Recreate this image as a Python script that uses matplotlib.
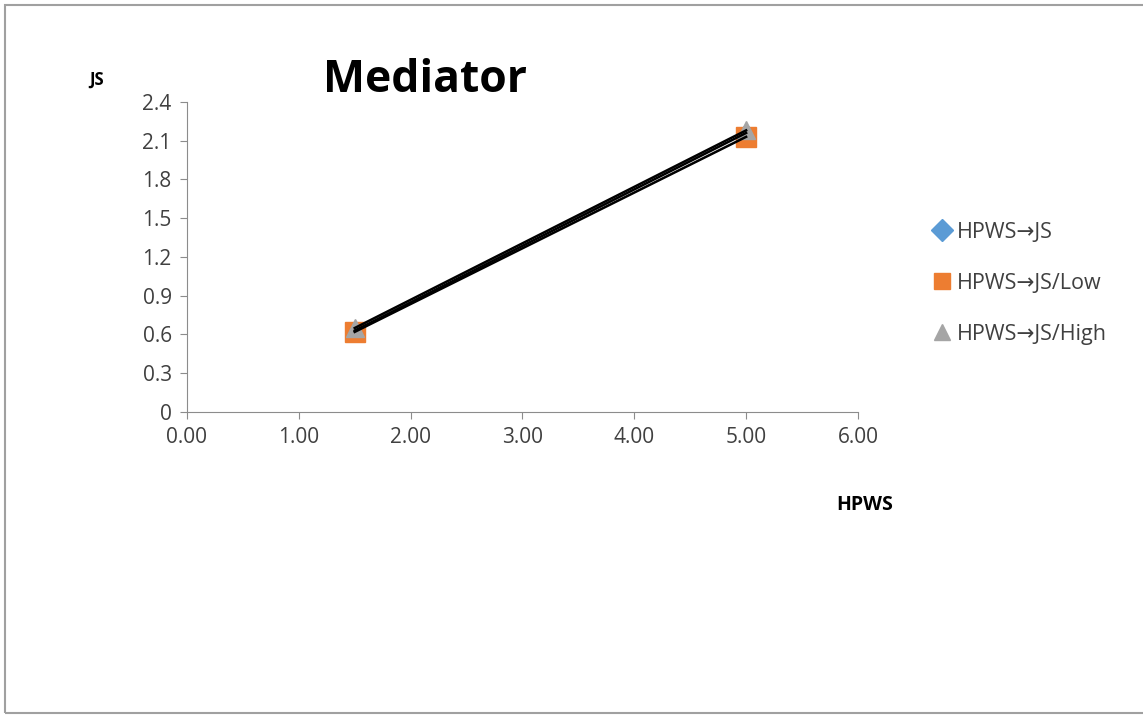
import matplotlib.pyplot as plt
from matplotlib.patches import Rectangle

plt.rcParams['font.family'] = ['Open Sans', 'DejaVu Sans']

hpws = [1.5, 5.0]
js_mid = [0.63, 2.16]
js_low = [0.62, 2.13]
js_high = [0.65, 2.18]

series_names = ['HPWS→JS', 'HPWS→JS/Low', 'HPWS→JS/High']
x_ticks = [0, 1, 2, 3, 4, 5, 6]
y_ticks = [0, 0.3, 0.6, 0.9, 1.2, 1.5, 1.8, 2.1, 2.4]

fig = plt.figure(figsize=(11.43, 7.15), dpi=100)
fig.patches.append(Rectangle((5 / 1143, 2 / 715), 1.0, 1 - 7 / 715,
                             transform=fig.transFigure, fill=False,
                             edgecolor='#a0a0a0', linewidth=1.5))

ax = fig.add_axes([0.1636, 0.4238, 0.587, 0.4336])

ax.plot(hpws, js_mid, linestyle='none', marker='D', markersize=9,
        color='#5b9bd5', label=series_names[0], zorder=3)
ax.plot(hpws, js_low, linestyle='none', marker='s', markersize=14,
        color='#ed7d31', label=series_names[1], zorder=3)
ax.plot(hpws, js_high, linestyle='none', marker='^', markersize=13,
        color='#a5a5a5', label=series_names[2], zorder=4)

# linear trend lines for each series
for ys in (js_low, js_mid, js_high):
    ax.plot(hpws, ys, color='black', linewidth=1.8, zorder=5)

ax.set_xlim(0, 6)
ax.set_ylim(0, 2.4)
ax.set_xticks(x_ticks)
ax.set_xticklabels([f'{v:.2f}' for v in x_ticks])
ax.set_yticks(y_ticks)
ax.set_yticklabels(['0'] + [f'{v:.1f}' for v in y_ticks[1:]])

for side in ('top', 'right'):
    ax.spines[side].set_visible(False)
for side in ('left', 'bottom'):
    ax.spines[side].set_color('#8c8c8c')
ax.tick_params(direction='out', length=5, color='#8c8c8c',
               labelsize=15, labelcolor='#404040', pad=6)

fig.text(425 / 1143, 1 - 80 / 715, 'Mediator', fontsize=32, fontweight='bold',
         ha='center', va='center')
fig.text(97 / 1143, 1 - 80 / 715, 'JS', fontsize=12, fontweight='bold',
         ha='center', va='center')
fig.text(865 / 1143, 1 - 505 / 715, 'HPWS', fontsize=14, fontweight='bold',
         ha='center', va='center')

leg = ax.legend(loc='upper left', bbox_to_anchor=(925 / 1143, 1 - 213 / 715),
                bbox_transform=fig.transFigure, frameon=False, fontsize=15.5,
                handlelength=0.8, handletextpad=0.3, labelspacing=1.4,
                borderaxespad=0)
for h in leg.legend_handles:
    h.set_markersize(11)
for t in leg.get_texts():
    t.set_color('#404040')

fig.savefig('out.png', dpi=100)
